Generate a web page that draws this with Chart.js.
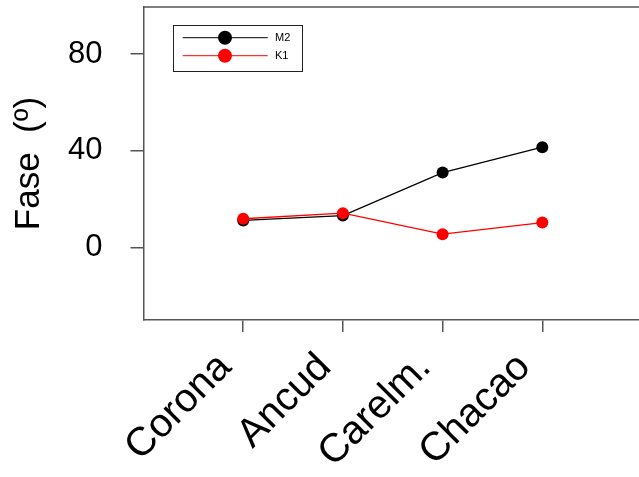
<!DOCTYPE html>
<html>
<head>
<meta charset="utf-8">
<script src="https://cdn.jsdelivr.net/npm/chart.js@4.4.1/dist/chart.umd.min.js"></script>
<style>
  html, body { margin: 0; padding: 0; background: #fff; overflow: hidden; }
  #wrap { width: 660px; height: 477px; }
</style>
</head>
<body>
<div id="wrap"><canvas id="faseChart" width="660" height="477"></canvas></div>
<script>
// --- Data ---
const categories = ["Corona", "Ancud", "Carelm.", "Chacao"];
const m2Values = [11.2, 13.2, 31.0, 41.5];
const k1Values = [11.9, 14.2, 5.5, 10.3];
const yTicks = [0, 40, 80];

const font = "'Liberation Sans', Arial, sans-serif";
const axisGray = "#555";

function toPoints(values) {
  return values.map((v, i) => ({ x: i + 1, y: v }));
}

// legend with a line through the marker, plus the top border of the box
const frameAndLegend = {
  id: "frameAndLegend",
  afterDraw(chart) {
    const ctx = chart.ctx;
    const area = chart.chartArea;
    ctx.save();
    ctx.strokeStyle = axisGray;
    ctx.lineWidth = 1.5;
    ctx.beginPath();
    ctx.moveTo(area.left, area.top);
    ctx.lineTo(area.right, area.top);
    ctx.stroke();

    // legend box
    const bx = 173.5, by = 25.5, bw = 129, bh = 46;
    ctx.strokeStyle = "#222";
    ctx.lineWidth = 1;
    ctx.strokeRect(bx, by, bw, bh);

    const rows = [chart.data.datasets[1], chart.data.datasets[0]];
    rows.forEach((ds, i) => {
      const y = 37.7 + i * 18;
      ctx.strokeStyle = ds.borderColor;
      ctx.lineWidth = 1;
      ctx.beginPath();
      ctx.moveTo(182.7, y);
      ctx.lineTo(267.7, y);
      ctx.stroke();
      ctx.fillStyle = ds.pointBackgroundColor;
      ctx.beginPath();
      ctx.arc(225, y, 7, 0, Math.PI * 2);
      ctx.fill();
      ctx.fillStyle = "#000";
      ctx.font = "11px " + font;
      ctx.textBaseline = "middle";
      ctx.textAlign = "left";
      ctx.fillText(ds.label, 275, y);
    });
    ctx.restore();
  }
};

const ctx = document.getElementById("faseChart");
new Chart(ctx, {
  type: "line",
  data: {
    datasets: [
      {
        label: "K1",
        data: toPoints(k1Values),
        borderColor: "#ff0000",
        backgroundColor: "#ff0000",
        pointBackgroundColor: "#ff0000",
        pointBorderWidth: 0,
        pointRadius: 6,
        borderWidth: 1.3,
        order: 0
      },
      {
        label: "M2",
        data: toPoints(m2Values),
        borderColor: "#000000",
        backgroundColor: "#000000",
        pointBackgroundColor: "#000000",
        pointBorderWidth: 0,
        pointRadius: 6,
        borderWidth: 1.3,
        order: 1
      }
    ]
  },
  options: {
    responsive: false,
    animation: false,
    layout: { padding: { top: 7, left: 0, right: 18, bottom: 0 } },
    plugins: { legend: { display: false }, tooltip: { enabled: false } },
    scales: {
      x: {
        type: "linear",
        min: 0,
        max: 5,
        afterBuildTicks: (scale) => {
          scale.ticks = categories.map((c, i) => ({ value: i + 1 }));
        },
        afterFit: (scale) => {
          scale.height = 157;
          scale.paddingLeft = 0;
          scale.paddingRight = 0;
        },
        border: { display: true, color: axisGray, width: 1.5 },
        grid: { drawOnChartArea: false, drawTicks: true, tickLength: 12, color: axisGray, lineWidth: 1.5 },
        ticks: {
          autoSkip: false,
          minRotation: 45,
          maxRotation: 45,
          padding: 12,
          labelOffset: -18,
          color: "#000",
          font: { family: font, size: 40 },
          callback: (v) => categories[v - 1]
        }
      },
      y: {
        min: -30,
        max: 99.5,
        afterBuildTicks: (scale) => {
          scale.ticks = yTicks.map((v) => ({ value: v }));
        },
        afterFit: (scale) => {
          scale.width = 143.5;
          scale.paddingTop = 0;
          scale.paddingBottom = 0;
        },
        border: { display: true, color: axisGray, width: 1.5 },
        grid: { drawOnChartArea: false, drawTicks: true, tickLength: 13, color: axisGray, lineWidth: 1.5 },
        ticks: {
          padding: 28,
          color: "#000",
          font: { family: font, size: 31 }
        },
        title: {
          display: true,
          text: "Fase  (º)",
          color: "#000",
          font: { family: font, size: 35 },
          padding: { top: 8, bottom: 0 }
        }
      }
    }
  },
  plugins: [frameAndLegend]
});
</script>
</body>
</html>
